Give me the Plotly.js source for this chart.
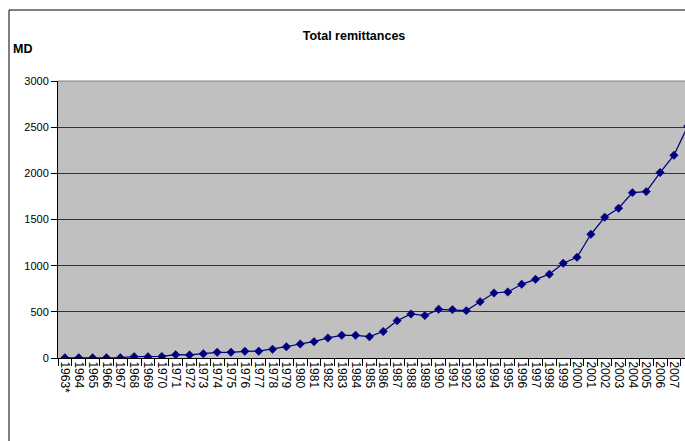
<!DOCTYPE html>
<html>
<head>
<meta charset="utf-8">
<script src="https://cdn.plot.ly/plotly-3.0.1.min.js"></script>
<style>
html,body{margin:0;padding:0;background:#fff;}
#chart{width:685px;height:441px;}
</style>
</head>
<body>
<div id="chart"></div>
<script>
var years = ['1963*','1964','1965','1966','1967','1968','1969','1970','1971','1972',
  '1973','1974','1975','1976','1977','1978','1979','1980','1981','1982',
  '1983','1984','1985','1986','1987','1988','1989','1990','1991','1992',
  '1993','1994','1995','1996','1997','1998','1999','2000','2001','2002',
  '2003','2004','2005','2006','2007','2008'];
var remittances = [2,3,3,4,4,15,14,17,36,33,
  47,62,62,73,74,94,122,152,177,217,
  246,246,231,287,404,477,459,527,524,513,
  610,704,715,798,852,907,1026,1091,1340,1524,
  1622,1791,1802,2008,2196,2510];
var yTicks = [0,500,1000,1500,2000,2500,3000];
var chartTitle = 'Total remittances';
var yUnit = 'MD';

var font = 'Liberation Sans, Arial, sans-serif';
var trace = {
  x: years, y: remittances, type: 'scatter', mode: 'lines+markers',
  line: {color: '#000080', width: 1.25},
  marker: {symbol: 'diamond', size: 6.5, color: '#000080', line: {color: '#000080', width: 0.5}},
  cliponaxis: true, hoverinfo: 'x+y'
};
var layout = {
  width: 685, height: 441,
  margin: {l: 58, r: 0, t: 81, b: 83},
  paper_bgcolor: '#ffffff', plot_bgcolor: '#c0c0c0',
  showlegend: false,
  font: {family: font, size: 11, color: '#000'},
  title: {text: '<b>' + chartTitle + '</b>', font: {family: font, size: 12.5, color: '#000'},
    xref: 'container', yref: 'container', x: 354/685, y: 1 - 36/441, xanchor: 'center', yanchor: 'middle'},
  xaxis: {type: 'category', range: [-0.5, 44.8], tickangle: 90, tickson: 'boundaries',
    tickmode: 'array', tickvals: years, ticktext: years,
    ticks: 'outside', ticklen: 7, tickcolor: '#000', tickwidth: 1,
    showline: true, linecolor: '#000', linewidth: 1, showgrid: false, zeroline: false,
    tickfont: {family: font, size: 12, color: '#000'}, fixedrange: true},
  yaxis: {range: [0, 3000], tickvals: yTicks, ticktext: yTicks.map(String),
    ticks: 'outside', ticklen: 6, tickcolor: '#000', tickwidth: 1,
    showline: true, linecolor: '#000', linewidth: 1,
    showgrid: true, gridcolor: '#333333', gridwidth: 1, zeroline: false,
    tickfont: {family: font, size: 11, color: '#000'}, fixedrange: true},
  shapes: [
    {type: 'line', xref: 'paper', yref: 'paper', x0: 0, x1: 1.01, y0: 1, y1: 1, line: {color: '#808080', width: 1}},
    {type: 'line', xref: 'paper', yref: 'paper', x0: (9-58)/627, x1: (9-58)/627, y0: (358-10)/277, y1: -0.4, line: {color: '#000', width: 1}},
    {type: 'line', xref: 'paper', yref: 'paper', x0: (9-58)/627, x1: 1.02, y0: (358-10)/277, y1: (358-10)/277, line: {color: '#000', width: 1}}
  ],
  annotations: [
    {text: '<b>' + yUnit + '</b>', xref: 'paper', yref: 'paper', x: (11-58)/627, y: (358-49)/277,
      xanchor: 'left', yanchor: 'middle', showarrow: false, font: {family: font, size: 12.5, color: '#000'}}
  ]
};
Plotly.newPlot('chart', [trace], layout, {displayModeBar: false, staticPlot: true});
</script>
</body>
</html>
